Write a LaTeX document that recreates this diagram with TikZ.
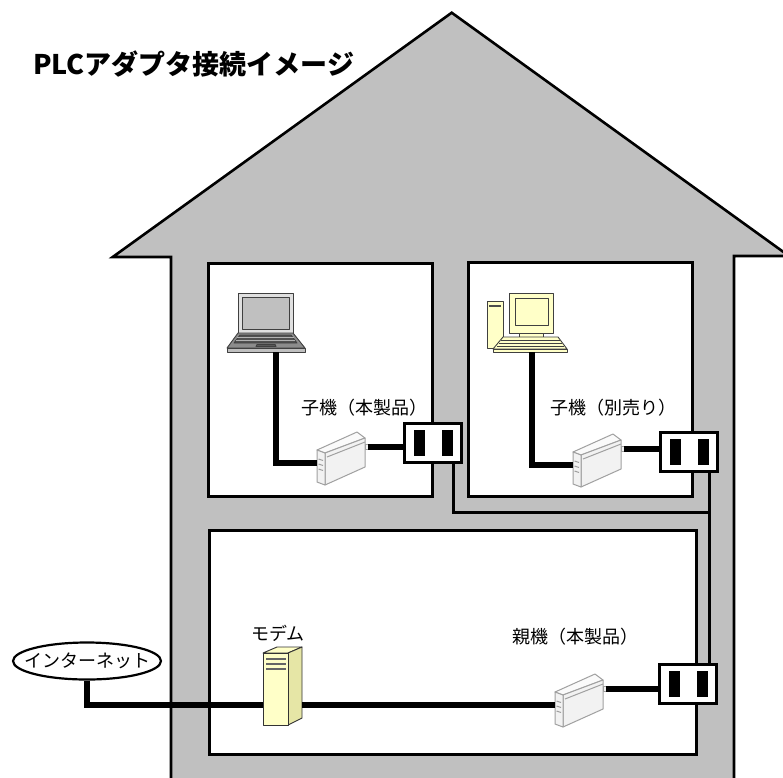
\documentclass[tikz,border=0pt]{standalone}
\usepackage{fontspec}
\setmainfont{Noto Sans CJK JP}
\usetikzlibrary{shapes.geometric,calc}

\definecolor{wallgray}{HTML}{C0C0C0}
\definecolor{devline}{HTML}{A0A0A0}
\definecolor{devfill}{HTML}{F2F2F2}
\definecolor{devtop}{HTML}{FAFAFA}
\definecolor{pcyellow}{HTML}{FFFFC8}
\definecolor{pcside}{HTML}{E6E6A6}
\definecolor{darkkey}{HTML}{505050}

\tikzset{
  house/.style={fill=wallgray, draw=black, line width=2.6pt, line join=miter},
  room/.style={fill=white, draw=black, line width=3pt},
  cable/.style={draw=black, line width=5.5pt},
  thincable/.style={draw=black, line width=3pt},
  outlet/.style={draw=black, fill=white, line width=3.2pt, minimum width=57pt,
    minimum height=39pt, inner sep=0pt},
  label/.style={font=\fontsize{18}{18}\selectfont, inner sep=0pt},
  cloud/.style={ellipse, draw=black, fill=white, line width=2.2pt,
    minimum width=148pt, minimum height=37pt, inner sep=0pt,
    font=\fontsize{18}{18}\selectfont},
  % PLC adapter drawn as a small slanted box
  adapter/.pic={
    \begin{scope}[draw=devline, line width=1pt, line join=round]
      \filldraw[fill=devtop] (0,0) -- (40,-18) -- (48,-12) -- (8,3) -- cycle;
      \filldraw[fill=devfill] (8,3) -- (48,-12) -- (48,17) -- (8,35) -- cycle;
      \filldraw[fill=devfill] (0,0) -- (8,3) -- (8,35) -- (0,32) -- cycle;
      \draw (10,7) -- (48,-8);
      \draw (1.5,9) -- (6,10.5) (1.5,14) -- (6,15.5) (1.5,19) -- (6,20.5);
      \filldraw[fill=devfill] (48,-6) rectangle (51,-1);
    \end{scope}
    \coordinate (-in) at (0,13);
    \coordinate (-out) at (51,-3);
  },
  % notebook computer
  laptop/.pic={
    \begin{scope}[draw=black!75, line width=0.9pt, line join=round]
      \filldraw[fill=black!12] (11,0) rectangle (66,40);
      \filldraw[fill=wallgray] (15,4) rectangle (62,36);
      \filldraw[fill=black!45] (11,40) -- (66,40) -- (78,55) -- (0,55) -- cycle;
      \filldraw[fill=darkkey] (13,42) -- (64,42) -- (70,50) -- (7,50) -- cycle;
      \draw[black!30] (10,44.5) -- (67,44.5) (9,47) -- (68,47);
      \filldraw[fill=black!25] (0,55) rectangle (78,59);
      \filldraw[fill=black!65] (30,51.5) -- (48,51.5) -- (49,53.5) -- (29,53.5) -- cycle;
    \end{scope}
    \coordinate (-port) at (49,59);
  },
  % desktop computer with tower
  desktop/.pic={
    \begin{scope}[draw=black!75, line width=0.9pt, line join=round]
      \filldraw[fill=pcyellow] (0,8) rectangle (16,55);
      \draw[line width=2pt, black!70] (2,13) -- (14,13);
      \filldraw[fill=pcyellow] (22,0) rectangle (66,40);
      \filldraw[fill=pcyellow] (28,5) rectangle (61,32);
      \filldraw[fill=pcyellow] (32,40) rectangle (56,44);
      \filldraw[fill=pcyellow] (16,44) -- (71,44) -- (80,56) -- (6,56) -- cycle;
      \draw (14,47) -- (73,47) (12,50) -- (75,50) (10,53) -- (77,53);
      \filldraw[fill=pcyellow] (6,56) rectangle (80,59);
    \end{scope}
    \coordinate (-port) at (45,59);
  },
  % modem tower
  modem/.pic={
    \begin{scope}[draw=black!80, line width=0.9pt, line join=round]
      \filldraw[fill=pcyellow] (0,6) -- (14,0) -- (39,0) -- (25,6) -- cycle;
      \filldraw[fill=pcside] (25,6) -- (39,0) -- (39,71) -- (25,78) -- cycle;
      \filldraw[fill=pcyellow] (0,6) rectangle (25,78);
      \draw[line width=1.6pt, black!60] (3,12) -- (23,12) (3,17) -- (23,17) (3,22) -- (23,22);
    \end{scope}
    \coordinate (-left) at (0,58);
    \coordinate (-right) at (39,58);
  }
}

\begin{document}
\begin{tikzpicture}[x=1pt, y=-1pt]
  \useasboundingbox (0,0) rectangle (783,777);
  \clip (0,0) rectangle (783,777);

  % house outline with roof
  \draw[house] (171,800) -- (171,257) -- (112.7,257) -- (451.7,12.7)
    -- (789,256) -- (734,256) -- (734,800);

  % rooms
  \draw[room] (208,263) rectangle (432,496);
  \draw[room] (468,262) rectangle (692,496);
  \draw[room] (209,530) rectangle (696,754);

  \node[anchor=west, font=\fontsize{27}{27}\selectfont\bfseries, inner sep=0pt]
    (title) at (33,64) {PLCアダプタ接続イメージ};

  % wall outlets
  \node[outlet] (o1) at (433,443) {};
  \node[outlet] (o2) at (689,452) {};
  \node[outlet] (o3) at (688,684) {};
  \foreach \o in {o1,o2,o3}{
    \fill ($(\o.center)+(-19,-13)$) rectangle ($(\o.center)+(-8,13)$);
    \fill ($(\o.center)+(9,-13)$) rectangle ($(\o.center)+(20,13)$);
  }

  % power line between the outlets
  \coordinate (o1b) at ($(o1.south)+(20,0)$);
  \coordinate (o2b) at ($(o2.south)+(20,0)$);
  \coordinate (o3t) at ($(o3.north)+(21,0)$);
  \coordinate (j) at (709,512);
  \draw[thincable] (o1b) |- (j);
  \draw[thincable] (o2b) -- (o3t);

  % devices
  \pic (pc1) at (227,293) {laptop};
  \pic (pc2) at (487,293) {desktop};
  \pic (a1) at (317,450) {adapter};
  \pic (a2) at (573,452) {adapter};
  \pic (a3) at (555,692) {adapter};
  \pic (mdm) at (263,647) {modem};
  \node[cloud] (net) at (87,661) {\makebox[0pt]{インターネット}};

  % cables
  \draw[cable] (pc1-port) |- (a1-in);
  \draw[cable] (a1-out) -- (a1-out -| o1.west);
  \draw[cable] (pc2-port) |- (a2-in);
  \draw[cable] (a2-out) -- (a2-out -| o2.west);
  \draw[cable] (net.south) |- (mdm-left);
  \draw[cable] (mdm-right) -- (a3-in);
  \draw[cable] (a3-out) -- (a3-out -| o3.west);

  % labels
  \node[label] (l1) at (364,408) {子機（本製品）};
  \node[label] (l2) at (613,408) {子機（別売り）};
  \node[label] (l3) at (575,637) {親機（本製品）};
  \node[label] (l4) at (278,633) {モデム};
\end{tikzpicture}
\end{document}
